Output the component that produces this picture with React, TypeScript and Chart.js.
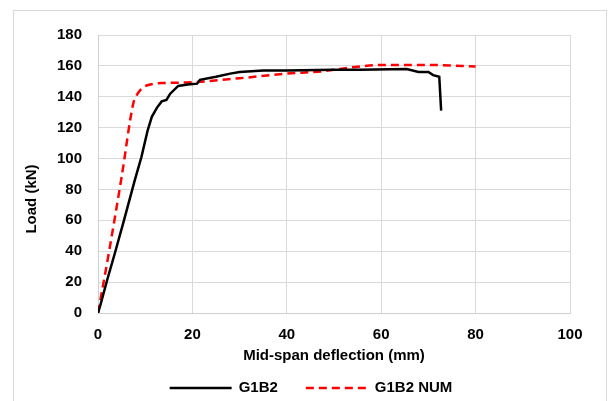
import React, { useEffect, useRef } from "react";
import { Chart, registerables } from "chart.js";

Chart.register(...registerables);

// ---- data ----
const seriesNames = ["G1B2", "G1B2 NUM"];

const testDeflection = [0, 0.5, 2.0, 3.6, 5.5, 7.8, 9.2, 10.5, 11.4, 12.5, 13.5, 14.5, 15.3, 17.0, 19.0, 21.0, 21.6, 25.0, 28.0, 30.0, 35.0, 40.0, 50.0, 55.5, 65.4, 67.9, 70.0, 71.0, 72.3, 72.7];
const testLoad = [0, 5, 22, 39, 60, 86, 101, 118, 127, 133, 137, 138, 142, 147, 148, 148.5, 151, 153, 155, 156, 157, 157, 157.5, 157.5, 158, 156, 156, 154, 153, 131];

const numDeflection = [0, 2.3, 5.0, 7.5, 8.2, 9.0, 10.3, 12.0, 14.0, 20.0, 30.0, 40.0, 47.5, 55.0, 60.0, 65.0, 72.0, 80.0];
const numLoad = [0, 39, 88, 136, 141, 144.5, 147.3, 148.5, 148.9, 149.4, 152, 155, 156.5, 159.5, 160.6, 160.6, 160.5, 159.6];

const xMin = 0, xMax = 100, xStep = 20;
const yMin = 0, yMax = 180, yStep = 20;

const xTitle = "Mid-span deflection (mm)";
const yTitle = "Load (kN)";

const FONT = "'Liberation Sans', Arial, sans-serif";

const annotationPlugin = {
  id: "customLegendAndTitle",
  afterDraw(chart: any) {
    const ctx = chart.ctx as CanvasRenderingContext2D;
    ctx.save();
    ctx.font = `bold 15px ${FONT}`;
    ctx.fillStyle = "#000";
    // y-axis title (Excel places it slightly below center)
    ctx.save();
    ctx.translate(32, 199);
    ctx.rotate(-Math.PI / 2);
    ctx.textAlign = "center";
    ctx.textBaseline = "middle";
    ctx.fillText(yTitle, 0, 0);
    ctx.restore();

    // legend
    const y = 388;
    const lineLen = 62;
    const textGap = 7;
    const itemGap = 28;
    ctx.textBaseline = "middle";
    ctx.textAlign = "left";
    const items = chart.data.datasets.map((d: any) => ({
      label: d.label,
      color: d.borderColor,
      dash: d.borderDash || [],
      width: lineLen + textGap + ctx.measureText(d.label).width,
    }));
    const total = items.reduce((s: number, it: any) => s + it.width, 0) + itemGap * (items.length - 1);
    let x = 311 - total / 2;
    items.forEach((it: any) => {
      ctx.beginPath();
      ctx.strokeStyle = it.color;
      ctx.lineWidth = 2.5;
      ctx.setLineDash(it.dash);
      ctx.moveTo(x, y);
      ctx.lineTo(x + lineLen, y);
      ctx.stroke();
      ctx.setLineDash([]);
      ctx.fillStyle = "#000";
      ctx.fillText(it.label, x + lineLen + textGap, y);
      x += it.width + itemGap;
    });
    ctx.restore();
  },
};

export default function App() {
  const ref = useRef<HTMLCanvasElement | null>(null);

  useEffect(() => {
    if (!ref.current) return;
    const chart = new Chart(ref.current, {
      type: "line",
      data: {
        datasets: [
          {
            label: seriesNames[0],
            data: testDeflection.map((x, i) => ({ x, y: testLoad[i] })),
            borderColor: "#000000",
            borderWidth: 2.5,
            pointRadius: 0,
            tension: 0,
            fill: false,
          },
          {
            label: seriesNames[1],
            data: numDeflection.map((x, i) => ({ x, y: numLoad[i] })),
            borderColor: "#ff0000",
            borderWidth: 2.5,
            borderDash: [8, 5],
            pointRadius: 0,
            cubicInterpolationMode: "monotone",
            fill: false,
          },
        ],
      },
      options: {
        responsive: false,
        animation: false,
        layout: { padding: { top: 35, right: 40, bottom: 36, left: 0 } },
        plugins: { legend: { display: false }, tooltip: { enabled: false } },
        scales: {
          x: {
            type: "linear",
            min: xMin,
            max: xMax,
            ticks: { stepSize: xStep, color: "#000", font: { family: FONT, size: 15, weight: "bold" }, padding: 13, maxRotation: 0 },
            grid: { color: "#d9d9d9", lineWidth: 1, drawTicks: false },
            border: { color: "#cfcfcf", width: 1 },
            title: { display: true, text: xTitle, color: "#000", font: { family: FONT, size: 15, weight: "bold" }, padding: { top: 0, bottom: 0 } },
            afterFit(scale: any) { scale.height = 52; },
          },
          y: {
            type: "linear",
            min: yMin,
            max: yMax,
            ticks: { stepSize: yStep, color: "#000", font: { family: FONT, size: 15, weight: "bold" }, padding: 16 },
            grid: { color: "#d9d9d9", lineWidth: 1, drawTicks: false },
            border: { color: "#cfcfcf", width: 1 },
            title: { display: false },
            afterFit(scale: any) { scale.width = 98; },
          },
        },
      },
      plugins: [annotationPlugin],
    } as any);
    return () => chart.destroy();
  }, []);

  return (
    <div style={{ position: "fixed", left: 0, top: 0, width: 610, height: 401, overflow: "hidden", background: "#fff" }}>
      <div style={{ position: "absolute", left: 13, top: 10, width: 594, height: 420, border: "1px solid #d9d9d9", boxSizing: "border-box" }} />
      <canvas ref={ref} width={610} height={401} style={{ position: "absolute", left: 0, top: 0 }} />
    </div>
  );
}
